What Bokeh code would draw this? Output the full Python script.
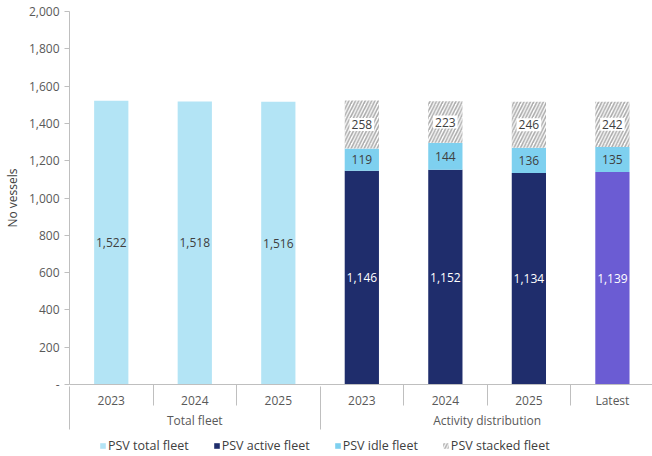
from bokeh.plotting import figure
from bokeh.layouts import column
from bokeh.models import (ColumnDataSource, Range1d, LinearAxis, FixedTicker,
                          CustomJSTickFormatter, Legend, LegendItem)
from bokeh.core.properties import value
from bokeh.embed import file_html
from bokeh.resources import INLINE

# ---------------- data ----------------
categories = ["2023", "2024", "2025", "2023", "2024", "2025", "Latest"]
groups = ["Total fleet", "Activity distribution"]
group_sizes = [3, 4]

total_years = ["2023", "2024", "2025"]
total_fleet = [1522, 1518, 1516]

activity_periods = ["2023", "2024", "2025", "Latest"]
active_fleet = [1146, 1152, 1134, 1139]
idle_fleet = [119, 144, 136, 135]
stacked_fleet = [258, 223, 246, 242]

series_names = ["PSV total fleet", "PSV active fleet", "PSV idle fleet", "PSV stacked fleet"]

y_ticks = [0, 200, 400, 600, 800, 1000, 1200, 1400, 1600, 1800, 2000]

# ---------------- styles ----------------
FONT = "Open Sans"
FS = "12px"
FS_LEG = "12.5px"
C_TOTAL = "#B3E4F5"
C_ACTIVE = "#1F2D6C"
C_LATEST = "#6B5CD3"
C_IDLE = "#7ED0EF"
C_HATCH = "#ABABAB"
C_TEXT = "#404040"
C_TICK = "#595959"
C_AXIS = "#BFBFBF"
BAR_W = 0.41
HATCH = dict(fill_color="white", hatch_pattern="/", hatch_color=C_HATCH,
             hatch_weight=1.6, hatch_scale=6.5)

n_total = len(total_fleet)
x_total = [i + 0.5 for i in range(n_total)]
x_act = [n_total + i + 0.5 for i in range(len(active_fleet))]
act_colors = [C_ACTIVE] * (len(active_fleet) - 1) + [C_LATEST]

src_total = ColumnDataSource(dict(
    x=x_total, top=total_fleet, mid=[v / 2 for v in total_fleet],
    lab=[f"{v:,}" for v in total_fleet]))

top_idle = [a + b for a, b in zip(active_fleet, idle_fleet)]
top_st = [t + s for t, s in zip(top_idle, stacked_fleet)]
src_act = ColumnDataSource(dict(
    x=x_act, active=active_fleet, top_idle=top_idle, top_st=top_st,
    color=act_colors,
    mid_a=[v / 2 for v in active_fleet],
    mid_i=[(a + b) / 2 for a, b in zip(active_fleet, top_idle)],
    mid_s=[(a + b) / 2 for a, b in zip(top_idle, top_st)],
    lab_a=[f"{v:,}" for v in active_fleet],
    lab_i=[f"{v:,}" for v in idle_fleet],
    lab_s=[f"{v:,}" for v in stacked_fleet]))

n_cat = len(categories)
p = figure(width=652, height=436, output_backend="svg", toolbar_location=None,
           x_range=Range1d(0, n_cat - 0.02), y_range=Range1d(0, 2000),
           x_axis_type=None, y_axis_type=None,
           min_border_left=68, min_border_right=0, min_border_top=11,
           min_border_bottom=52)
p.outline_line_color = None
p.xgrid.visible = False
p.ygrid.visible = False
p.background_fill_color = "white"
p.border_fill_color = "white"

# y axis
yaxis = LinearAxis(ticker=FixedTicker(ticks=y_ticks),
                   formatter=CustomJSTickFormatter(
                       code="return tick == 0 ? '-' : tick.toLocaleString('en-US');"),
                   axis_label="No vessels")
yaxis.axis_line_color = C_AXIS
yaxis.major_tick_line_color = C_AXIS
yaxis.major_tick_out = 5
yaxis.major_tick_in = 0
yaxis.minor_tick_line_color = None
yaxis.major_label_standoff = 5
yaxis.major_label_text_font = FONT
yaxis.major_label_text_font_size = FS
yaxis.major_label_text_color = C_TICK
yaxis.axis_label_text_font = FONT
yaxis.axis_label_text_font_size = FS
yaxis.axis_label_text_font_style = "normal"
yaxis.axis_label_text_color = C_TEXT
yaxis.axis_label_standoff = 5
p.add_layout(yaxis, "left")

# x axis level 1 (categories)
cat_centers = [i + 0.5 for i in range(n_cat)]
boundaries = [i for i in range(1, n_cat) if i != n_total]
xaxis1 = LinearAxis(ticker=FixedTicker(ticks=cat_centers, minor_ticks=boundaries))
xaxis1.major_label_overrides = {c: lab for c, lab in zip(cat_centers, categories)}
xaxis1.axis_line_color = C_AXIS
xaxis1.major_tick_out = 0
xaxis1.major_tick_in = 0
xaxis1.minor_tick_line_color = C_AXIS
xaxis1.minor_tick_out = 21
xaxis1.minor_tick_in = 0
xaxis1.major_label_standoff = -14
xaxis1.major_label_text_font = FONT
xaxis1.major_label_text_font_size = FS
xaxis1.major_label_text_color = C_TICK
p.add_layout(xaxis1, "below")

# x axis level 2 (groups)
g_centers, g_edges, start = [], [], 0
for gs in group_sizes:
    g_edges.append(start)
    g_centers.append(start + gs / 2)
    start += gs
xaxis2 = LinearAxis(ticker=FixedTicker(ticks=g_centers, minor_ticks=g_edges))
xaxis2.major_label_overrides = {c: g for c, g in zip(g_centers, groups)}
xaxis2.axis_line_color = None
xaxis2.major_tick_out = 0
xaxis2.major_tick_in = 0
xaxis2.minor_tick_line_color = C_AXIS
xaxis2.minor_tick_out = 18
xaxis2.minor_tick_in = 25
xaxis2.major_label_standoff = -18
xaxis2.major_label_text_font = FONT
xaxis2.major_label_text_font_size = FS
xaxis2.major_label_text_color = C_TICK
p.add_layout(xaxis2, "below")

# bars
p.vbar(x="x", top="top", width=BAR_W, source=src_total,
       fill_color=C_TOTAL, line_color=None)
p.vbar(x="x", bottom=0, top="active", width=BAR_W, source=src_act,
       fill_color="color", line_color=None)
p.vbar(x="x", bottom="active", top="top_idle", width=BAR_W, source=src_act,
       fill_color=C_IDLE, line_color=None)
p.vbar(x="x", bottom="top_idle", top="top_st", width=BAR_W, source=src_act,
       line_color=None, **HATCH)

# labels
def labels(src, y, text, color, bg=None):
    kw = dict(x="x", y=y, text=text, source=src, text_align="center",
              text_baseline="middle", text_font=value(FONT),
              text_font_size=FS, text_color=color)
    if bg:
        kw.update(background_fill_color=bg, padding=2)
    p.text(**kw)

labels(src_total, "mid", "lab", C_TEXT)
labels(src_act, "mid_a", "lab_a", "white")
labels(src_act, "mid_i", "lab_i", C_TEXT)
labels(src_act, "mid_s", "lab_s", C_TEXT, bg="white")

# legend strip (legend glyph renderers hold a point outside the visible range)
lg = figure(width=652, height=20, output_backend="svg", toolbar_location=None,
            x_axis_type=None, y_axis_type=None, x_range=Range1d(0, 1),
            y_range=Range1d(0, 1), min_border=0, min_border_left=0,
            min_border_right=0, min_border_top=0, min_border_bottom=0)
lg.outline_line_color = None
lg.xgrid.visible = False
lg.ygrid.visible = False
styles = [dict(fill_color=C_TOTAL), dict(fill_color=C_ACTIVE),
          dict(fill_color=C_IDLE), HATCH]
items = []
for name, st in zip(series_names, styles):
    r = lg.vbar(x="x", top="top", width=0.1,
                source=ColumnDataSource(dict(x=[-5], top=[-5])),
                line_color=None, **st)
    items.append(LegendItem(label=name, renderers=[r]))
legend = Legend(items=items, orientation="horizontal", location=(30, 2),
                margin=0, padding=2, spacing=24, glyph_width=7, glyph_height=7,
                label_standoff=2, label_height=12, label_text_baseline="middle",
                label_text_font=FONT, label_text_font_size=FS_LEG,
                label_text_color=C_TEXT, border_line_color=None,
                background_fill_alpha=0)
lg.add_layout(legend, "center")

layout = column(p, lg, spacing=0)
open("out.html", "w").write(file_html(layout, INLINE))
